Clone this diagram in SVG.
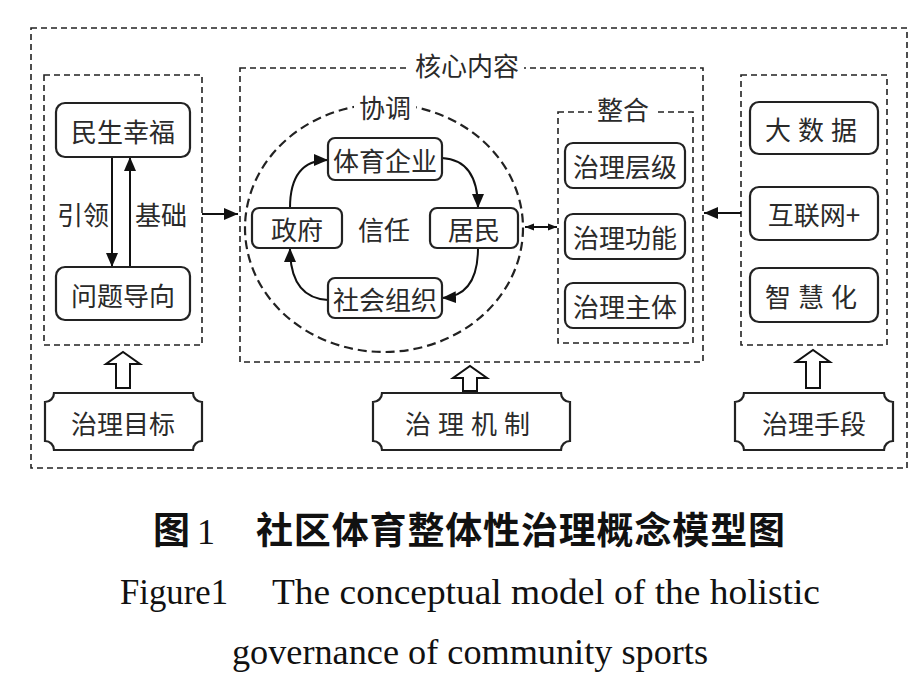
<svg xmlns="http://www.w3.org/2000/svg" width="924" height="686" viewBox="0 0 924 686">
<defs>
<style>
.dash{fill:none;stroke:#222;stroke-width:1.6;stroke-dasharray:6 4}
.circ{fill:none;stroke:#222;stroke-width:2.2;stroke-dasharray:9 5}
.box{fill:#fff;stroke:#222;stroke-width:2.2}
.plq{fill:#fff;stroke:#222;stroke-width:2.2}
.t{font-family:"Noto Sans CJK SC","Noto Sans",sans-serif;font-size:26px;fill:#2a2a2a;text-anchor:middle;dominant-baseline:central}
.ln{fill:none;stroke:#111;stroke-width:2}
.hollow{fill:#fff;stroke:#111;stroke-width:2;stroke-linejoin:miter}
.cap{font-family:"Noto Sans CJK SC",sans-serif;font-weight:bold;font-size:37px;fill:#111}
.en{font-family:"Liberation Serif","Times New Roman",serif;font-size:36px;fill:#111}
</style>
<marker id="ah" viewBox="0 0 14 12" refX="14" refY="6" markerWidth="14" markerHeight="12" markerUnits="userSpaceOnUse" orient="auto-start-reverse">
<path d="M0,0 L14,6 L0,12 Z" fill="#111"/>
</marker>
<marker id="ahs" viewBox="0 0 10 8" refX="10" refY="4" markerWidth="9" markerHeight="8" markerUnits="userSpaceOnUse" orient="auto-start-reverse">
<path d="M0,0 L10,4 L0,8 Z" fill="#111"/>
</marker>
</defs>
<rect width="924" height="686" fill="#fff"/>

<!-- frames -->
<g id="frames">
<rect class="dash" x="31" y="28" width="876" height="440"/>
<rect class="dash" x="44" y="75" width="158" height="270"/>
<rect class="dash" x="240" y="68" width="463" height="294"/>
<rect class="dash" x="558" y="112" width="135" height="231"/>
<rect class="dash" x="741" y="75" width="146" height="270"/>
<ellipse class="circ" cx="384" cy="228" rx="139" ry="124"/>
</g>

<g id="labels">
<rect x="410" y="52" width="114" height="28" fill="#fff"/>
<text class="t" x="467" y="64">核心内容</text>
<rect x="354" y="93" width="62" height="28" fill="#fff"/>
<text class="t" x="385" y="106">协调</text>
<rect x="592" y="96" width="62" height="28" fill="#fff"/>
<text class="t" x="623" y="108">整合</text>
<text class="t" x="384" y="228">信任</text>
<text class="t" x="83" y="213">引领</text>
<text class="t" x="161" y="213">基础</text>
</g>

<!-- connectors -->
<g id="connectors">
<line class="ln" x1="112" y1="157" x2="112" y2="267" marker-end="url(#ah)"/>
<line class="ln" x1="130" y1="267" x2="130" y2="157" marker-end="url(#ah)"/>
<line class="ln" x1="202" y1="214" x2="238" y2="214" marker-end="url(#ah)"/>
<line class="ln" x1="741" y1="213" x2="704" y2="213" marker-end="url(#ah)"/>
<line class="ln" x1="525" y1="227" x2="557" y2="227" marker-start="url(#ahs)" marker-end="url(#ahs)"/>
<path class="ln" d="M290,208 Q290,160 328,160" marker-end="url(#ah)"/>
<path class="ln" d="M442,158 Q478,160 478,208" marker-end="url(#ah)"/>
<path class="ln" d="M478,248 Q478,296 442,298" marker-end="url(#ah)"/>
<path class="ln" d="M328,300 Q290,298 290,248" marker-end="url(#ah)"/>
<path class="hollow" d="M116,388 L116,364 L106,364 L123,352 L140,364 L130,364 L130,388 Z"/>
<path class="hollow" d="M463,391 L463,378 L453,378 L470,366 L487,378 L477,378 L477,391 Z"/>
<path class="hollow" d="M806,388 L806,362 L796,362 L813,350 L830,362 L820,362 L820,388 Z"/>
</g>

<!-- nodes -->
<g id="n-minsheng"><rect class="box" x="56" y="103" width="134" height="54" rx="9"/><text class="t" x="123" y="130">民生幸福</text></g>
<g id="n-wenti"><rect class="box" x="56" y="267" width="134" height="53" rx="9"/><text class="t" x="123" y="294">问题导向</text></g>
<g id="n-tiyu"><rect class="box" x="328" y="138" width="114" height="42" rx="7"/><text class="t" x="385" y="159">体育企业</text></g>
<g id="n-zhengfu"><rect class="box" x="252" y="208" width="90" height="40" rx="7"/><text class="t" x="297" y="228">政府</text></g>
<g id="n-jumin"><rect class="box" x="430" y="208" width="88" height="40" rx="7"/><text class="t" x="474" y="228">居民</text></g>
<g id="n-shehui"><rect class="box" x="328" y="278" width="114" height="40" rx="7"/><text class="t" x="385" y="298">社会组织</text></g>
<g id="n-cengji"><rect class="box" x="565" y="143" width="120" height="45" rx="8"/><text class="t" x="625" y="165">治理层级</text></g>
<g id="n-gongneng"><rect class="box" x="565" y="214" width="120" height="45" rx="8"/><text class="t" x="625" y="236">治理功能</text></g>
<g id="n-zhuti"><rect class="box" x="565" y="283" width="120" height="45" rx="8"/><text class="t" x="625" y="305">治理主体</text></g>
<g id="n-dashuju"><rect class="box" x="750" y="102" width="128" height="52" rx="9"/><text class="t" x="778 811 844" y="128">大数据</text></g>
<g id="n-hulianwang"><rect class="box" x="750" y="187" width="128" height="53" rx="9"/><text class="t" x="814" y="213">互联网+</text></g>
<g id="n-zhihui"><rect class="box" x="750" y="268" width="128" height="54" rx="9"/><text class="t" x="778 811 844" y="295">智慧化</text></g>
<g id="n-mubiao"><path class="plq" d="M54,393 L193,393 A9,9 0 0 0 202,402 L202,441 A9,9 0 0 0 193,450 L54,450 A9,9 0 0 0 45,441 L45,402 A9,9 0 0 0 54,393 Z"/><text class="t" x="123" y="422">治理目标</text></g>
<g id="n-jizhi"><path class="plq" d="M382,393 L561,393 A9,9 0 0 0 570,402 L570,441 A9,9 0 0 0 561,450 L382,450 A9,9 0 0 0 373,441 L373,402 A9,9 0 0 0 382,393 Z"/><text class="t" x="418 451 484 517" y="422">治理机制</text></g>
<g id="n-shouduan"><path class="plq" d="M744,393 L884,393 A9,9 0 0 0 893,402 L893,441 A9,9 0 0 0 884,450 L744,450 A9,9 0 0 0 735,441 L735,402 A9,9 0 0 0 744,393 Z"/><text class="t" x="814" y="422">治理手段</text></g>

<!-- caption -->
<g id="caption">
<text class="cap" x="153" y="544">图</text>
<text x="197" y="544" style="font-family:'Liberation Serif',serif;font-size:36px;fill:#111">1</text>
<text class="cap" x="256" y="544" textLength="529" lengthAdjust="spacing">社区体育整体性治理概念模型图</text>
<text class="en" x="120" y="604" textLength="108" lengthAdjust="spacingAndGlyphs">Figure1</text>
<text class="en" x="272" y="604" textLength="548" lengthAdjust="spacingAndGlyphs">The conceptual model of the holistic</text>
<text class="en" x="232" y="664" textLength="476" lengthAdjust="spacingAndGlyphs">governance of community sports</text>
</g>
</svg>
